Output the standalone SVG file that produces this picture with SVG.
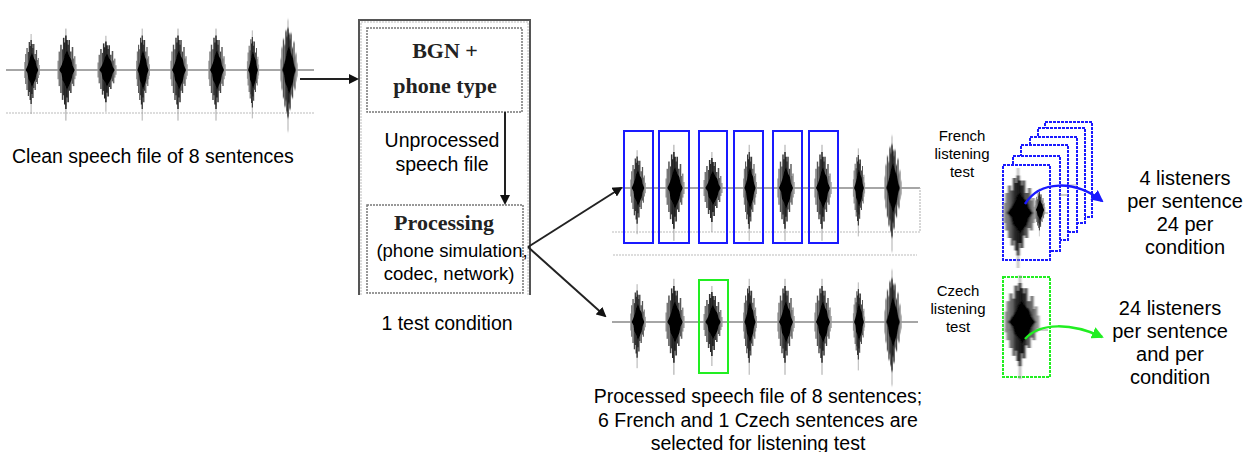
<svg xmlns="http://www.w3.org/2000/svg" xmlns:xlink="http://www.w3.org/1999/xlink" width="1244" height="452" viewBox="0 0 1244 452">
<style>
.t{font-family:"Liberation Sans",Arial,sans-serif;fill:#000}
.s{font-family:"Liberation Serif","Times New Roman",serif;font-weight:bold;fill:#222}
.base{stroke:#888;stroke-width:1.5}
.dot{fill:none;stroke:#bbb;stroke-width:1.2;stroke-dasharray:2 1}
.blue{fill:none;stroke:#1a1aff;stroke-width:2}
.green{fill:none;stroke:#22ee22;stroke-width:2}
.box{fill:none;stroke:#777;stroke-width:1.5;stroke-dasharray:2 1}
.conn{fill:none;stroke:#222;stroke-width:2}
</style>
<defs>
<filter id="soft" x="-50%" y="-50%" width="200%" height="200%"><feGaussianBlur stdDeviation="0.6"/></filter>
<symbol id="b" overflow="visible">
<g filter="url(#soft)" stroke-width="1.4">
<line x1="-1" y1="-36" x2="-1" y2="44" stroke="#999" stroke-width="0.8"/>
<line x1="-8" y1="-8" x2="-8" y2="8" stroke="#999"/>
<line x1="-7" y1="-16" x2="-7" y2="14" stroke="#777"/>
<line x1="-5.5" y1="-22" x2="-5.5" y2="20" stroke="#555"/>
<line x1="-4" y1="-18" x2="-4" y2="26" stroke="#444"/>
<line x1="-3" y1="-28" x2="-3" y2="22" stroke="#333"/>
<line x1="-2" y1="-24" x2="-2" y2="30" stroke="#222"/>
<line x1="-1" y1="-30" x2="-1" y2="34" stroke="#222"/>
<line x1="0" y1="-26" x2="0" y2="24" stroke="#111"/>
<line x1="1" y1="-22" x2="1" y2="28" stroke="#222"/>
<line x1="2" y1="-26" x2="2" y2="18" stroke="#333"/>
<line x1="3.5" y1="-16" x2="3.5" y2="20" stroke="#444"/>
<line x1="5" y1="-20" x2="5" y2="12" stroke="#555"/>
<line x1="6" y1="-10" x2="6" y2="14" stroke="#666"/>
<line x1="7" y1="-12" x2="7" y2="8" stroke="#888"/>
<line x1="8" y1="-5" x2="8" y2="5" stroke="#999"/>
<path d="M0,-17 L2,-12 L4,-9 L5,-4 L7,0 L5,4 L4,9 L2,13 L0,17 L-2,12 L-4,9 L-5,3 L-7,0 L-5,-4 L-3,-9 L-2,-13 Z" fill="#000" stroke="none"/>
</g>
</symbol>
<marker id="ah" markerWidth="10" markerHeight="10" refX="8" refY="5" orient="auto" markerUnits="userSpaceOnUse">
<path d="M0,0 L10,5 L0,10 z" fill="#111"/>
</marker>
<marker id="ahb" markerWidth="12" markerHeight="12" refX="10" refY="6" orient="auto" markerUnits="userSpaceOnUse">
<path d="M0,0 L12,6 L0,12 z" fill="#1a1aff"/>
</marker>
<marker id="ahg" markerWidth="12" markerHeight="12" refX="10" refY="6" orient="auto" markerUnits="userSpaceOnUse">
<path d="M0,0 L12,6 L0,12 z" fill="#22ee22"/>
</marker>
</defs>

<g id="clean-wave">
<line class="base" x1="6" y1="70" x2="314" y2="70"/>
<line class="dot" x1="6" y1="113" x2="314" y2="113"/>
<use href="#b" transform="translate(32,70) scale(0.9,1)"/>
<use href="#b" transform="translate(67,70) scale(1.1,1.15)"/>
<use href="#b" transform="translate(107,70) scale(1.1,0.95)"/>
<use href="#b" transform="translate(143,70) scale(0.8,1.15)"/>
<use href="#b" transform="translate(179,70) scale(1,1.15)"/>
<use href="#b" transform="translate(217,70) scale(1,1.15)"/>
<use href="#b" transform="translate(253,70) scale(0.7,1.1)"/>
<use href="#b" transform="translate(289,70) scale(1,1.4)"/>
<text class="t" x="12" y="163" font-size="19.5">Clean speech file of 8 sentences</text>
</g>

<g id="condition">
<path d="M359,295 V20 H530 V295" fill="none" stroke="#555" stroke-width="2"/>
<path d="M361,295 V22 H528 V295" fill="none" stroke="#bbb" stroke-width="1" stroke-dasharray="2 1"/>
<text class="t" x="447" y="330" font-size="19.5" text-anchor="middle">1 test condition</text>
</g>

<g id="bgn">
<rect class="box" x="367" y="28" width="155" height="84"/>
<text class="s" x="445" y="58" font-size="22" text-anchor="middle">BGN +</text>
<text class="s" x="445" y="93" font-size="22" text-anchor="middle">phone type</text>
</g>

<g id="unprocessed-label">
<text class="t" x="442" y="147" font-size="19.5" text-anchor="middle">Unprocessed</text>
<text class="t" x="442" y="171" font-size="19.5" text-anchor="middle">speech file</text>
</g>

<g id="processing">
<rect class="box" x="367" y="205" width="156" height="88"/>
<text class="s" x="444" y="230" font-size="22" text-anchor="middle">Processing</text>
<text class="t" x="452" y="257" font-size="18.5" text-anchor="middle">(phone simulation,</text>
<text class="t" x="449" y="280" font-size="18.5" text-anchor="middle">codec, network)</text>
</g>

<g id="processed-top">
<line class="base" x1="612" y1="188" x2="920" y2="188"/>
<path class="dot" d="M612,232 H920 V188"/>
<line class="dot" x1="613" y1="255" x2="917" y2="255"/>
<use href="#b" transform="translate(638,188) scale(0.9,1.05)"/>
<use href="#b" transform="translate(675,188) scale(1.1,1.2)"/>
<use href="#b" transform="translate(713,188) scale(1.1,1)"/>
<use href="#b" transform="translate(750,188) scale(0.8,1.2)"/>
<use href="#b" transform="translate(786,188) scale(1,1.2)"/>
<use href="#b" transform="translate(823,188) scale(1,1.2)"/>
<use href="#b" transform="translate(859,188) scale(0.7,1.1)"/>
<use href="#b" transform="translate(893,188) scale(1,1.45)"/>
<rect class="blue" x="624" y="131" width="29" height="112"/>
<rect class="blue" x="659" y="131" width="30" height="112"/>
<rect class="blue" x="699" y="131" width="28" height="112"/>
<rect class="blue" x="734" y="131" width="29" height="112"/>
<rect class="blue" x="773" y="131" width="29" height="112"/>
<rect class="blue" x="809" y="131" width="29" height="112"/>
</g>

<g id="processed-bottom">
<line class="base" x1="612" y1="322" x2="918" y2="322"/>
<use href="#b" transform="translate(638,322) scale(0.9,1.05)"/>
<use href="#b" transform="translate(675,322) scale(1.1,1.2)"/>
<use href="#b" transform="translate(713,322) scale(1.1,1)"/>
<use href="#b" transform="translate(750,322) scale(0.8,1.2)"/>
<use href="#b" transform="translate(786,322) scale(1,1.2)"/>
<use href="#b" transform="translate(823,322) scale(1,1.2)"/>
<use href="#b" transform="translate(859,322) scale(0.7,1.1)"/>
<use href="#b" transform="translate(893,322) scale(1,1.45)"/>
<rect class="green" x="699" y="280" width="29" height="93"/>
<text class="t" x="758" y="403" font-size="19.5" text-anchor="middle">Processed speech file of 8 sentences;</text>
<text class="t" x="758" y="427" font-size="19.5" text-anchor="middle">6 French and 1 Czech sentences are</text>
<text class="t" x="758" y="450" font-size="19.5" text-anchor="middle">selected for listening test</text>
</g>

<g id="french-test">
<text class="t" x="962" y="141" font-size="15" text-anchor="middle">French</text>
<text class="t" x="962" y="159" font-size="15" text-anchor="middle">listening</text>
<text class="t" x="962" y="177" font-size="15" text-anchor="middle">test</text>
<rect x="1045" y="122" width="47" height="95" fill="#fff" stroke="#1a1aff" stroke-width="2" stroke-dasharray="3 1"/>
<rect x="1038" y="128" width="47" height="95" fill="#fff" stroke="#1a1aff" stroke-width="2" stroke-dasharray="3 1"/>
<rect x="1030" y="137" width="47" height="95" fill="#fff" stroke="#1a1aff" stroke-width="2" stroke-dasharray="3 1"/>
<rect x="1021" y="145" width="47" height="95" fill="#fff" stroke="#1a1aff" stroke-width="2" stroke-dasharray="3 1"/>
<rect x="1013" y="156" width="47" height="95" fill="#fff" stroke="#1a1aff" stroke-width="2" stroke-dasharray="3 1"/>
<line x1="1060" y1="195" x2="1068" y2="195" stroke="#999" stroke-width="1"/>
<line x1="1068" y1="185" x2="1077" y2="185" stroke="#bbb" stroke-width="1"/>
<rect x="1003" y="165" width="47" height="95" fill="#fff" stroke="#1a1aff" stroke-width="2" stroke-dasharray="3 1"/>
<line x1="1005" y1="213" x2="1048" y2="213" stroke="#999" stroke-width="1"/>
<use href="#b" transform="translate(1020,213) scale(1.9,1.25)"/>
<use href="#b" transform="translate(1040,210) scale(0.6,0.6)"/>
<text class="t" x="1185" y="185" font-size="20" text-anchor="middle">4 listeners</text>
<text class="t" x="1185" y="208" font-size="20" text-anchor="middle">per sentence</text>
<text class="t" x="1185" y="231" font-size="20" text-anchor="middle">24 per</text>
<text class="t" x="1185" y="254" font-size="20" text-anchor="middle">condition</text>
</g>

<g id="czech-test">
<text class="t" x="958" y="296" font-size="15" text-anchor="middle">Czech</text>
<text class="t" x="958" y="314" font-size="15" text-anchor="middle">listening</text>
<text class="t" x="958" y="332" font-size="15" text-anchor="middle">test</text>
<rect x="1003" y="277" width="47" height="100" fill="#fff" stroke="#22ee22" stroke-width="2" stroke-dasharray="3 1"/>
<line x1="1005" y1="330" x2="1048" y2="330" stroke="#999" stroke-width="1"/>
<use href="#b" transform="translate(1022,322) scale(2,1.3)"/>
<text class="t" x="1170" y="315" font-size="20" text-anchor="middle">24 listeners</text>
<text class="t" x="1170" y="338" font-size="20" text-anchor="middle">per sentence</text>
<text class="t" x="1170" y="361" font-size="20" text-anchor="middle">and per</text>
<text class="t" x="1170" y="384" font-size="20" text-anchor="middle">condition</text>
</g>

<g id="connectors">
<line class="conn" x1="300" y1="79" x2="357" y2="79" stroke="#555" stroke-width="3" marker-end="url(#ah)"/>
<line class="conn" x1="505" y1="112" x2="505" y2="203" stroke-width="1.5" marker-end="url(#ah)"/>
<line class="conn" x1="528" y1="247" x2="621" y2="188" marker-end="url(#ah)"/>
<line class="conn" x1="528" y1="247" x2="605" y2="316" marker-end="url(#ah)"/>
<path d="M1025,204 C1040,180 1075,180 1102,201" fill="none" stroke="#1a1aff" stroke-width="2.5" marker-end="url(#ahb)"/>
<path d="M1025,339 C1040,322 1072,323 1102,337" fill="none" stroke="#22ee22" stroke-width="2.5" marker-end="url(#ahg)"/>
</g>
</svg>
